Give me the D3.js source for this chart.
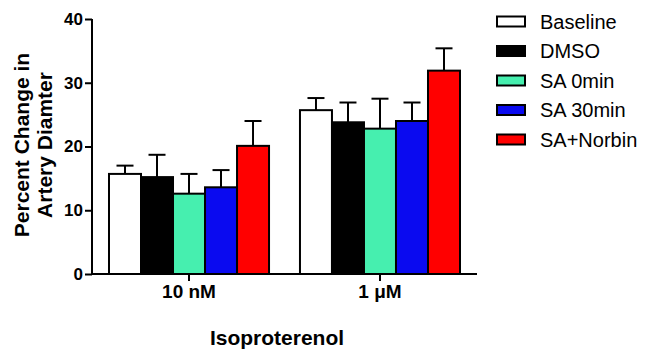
<!DOCTYPE html>
<html>
<head>
<meta charset="utf-8">
<script src="https://cdn.jsdelivr.net/npm/d3@7"></script>
<style>
  body { margin: 0; background: #fff; }
  svg { display: block; font-family: "Liberation Sans", Arial, sans-serif; }
</style>
</head>
<body>
<div id="chart"></div>
<script>
const doses = ["10 nM", "1 \u03BCM"];
const groups = ["Baseline", "DMSO", "SA 0min", "SA 30min", "SA+Norbin"];
const colors = ["#ffffff", "#000000", "#46efaf", "#0a0af0", "#ff0000"];
const means = [
  [15.7, 15.2, 12.6, 13.6, 20.1],
  [25.7, 23.8, 22.8, 24.0, 31.9]
];
const errs = [
  [1.3, 3.5, 3.1, 2.7, 3.9],
  [1.9, 3.1, 4.7, 2.9, 3.5]
];
const yTicks = [0, 10, 20, 30, 40];

const W = 652, H = 349;
const mLeft = 92, mRight = 477, mTop = 19, mBottom = 274;

const svg = d3.select("#chart")
  .append("svg")
  .attr("width", W)
  .attr("height", H);

const x0 = d3.scaleBand()
  .domain(doses)
  .range([mLeft, mRight])
  .paddingInner(0.162)
  .paddingOuter(0.089);

const x1 = d3.scaleBand()
  .domain(groups)
  .range([0, x0.bandwidth()]);

const y = d3.scaleLinear().domain([0, 40]).range([mBottom, mTop]);

// bars
const data = [];
doses.forEach((d, i) => {
  groups.forEach((g, j) => {
    data.push({ dose: d, group: g, color: colors[j], mean: means[i][j], err: errs[i][j] });
  });
});

const bar = svg.append("g")
  .selectAll("g")
  .data(data)
  .enter()
  .append("g")
  .attr("transform", (d) => "translate(" + (x0(d.dose) + x1(d.group)) + ",0)");

const bw = x1.bandwidth();
const cap = 17;

// error bars (upper only)
bar.append("line")
  .attr("x1", bw / 2).attr("x2", bw / 2)
  .attr("y1", (d) => y(d.mean))
  .attr("y2", (d) => y(d.mean + d.err))
  .attr("stroke", "#000").attr("stroke-width", 2);

bar.append("line")
  .attr("x1", bw / 2 - cap / 2).attr("x2", bw / 2 + cap / 2)
  .attr("y1", (d) => y(d.mean + d.err))
  .attr("y2", (d) => y(d.mean + d.err))
  .attr("stroke", "#000").attr("stroke-width", 2);

bar.append("rect")
  .attr("x", 0)
  .attr("y", (d) => y(d.mean))
  .attr("width", bw)
  .attr("height", (d) => mBottom - y(d.mean))
  .attr("fill", (d) => d.color)
  .attr("stroke", "#000")
  .attr("stroke-width", 2);

// axes
const yAxis = svg.append("g")
  .attr("transform", "translate(" + mLeft + ",0)")
  .call(d3.axisLeft(y).tickValues(yTicks).tickSize(7).tickPadding(2).tickSizeOuter(0));

const xAxis = svg.append("g")
  .attr("transform", "translate(0," + mBottom + ")")
  .call(d3.axisBottom(x0).tickSize(7).tickPadding(4).tickSizeOuter(0));

[yAxis, xAxis].forEach((a) => {
  a.select(".domain").attr("stroke-width", 2);
  a.selectAll(".tick line").attr("stroke-width", 2);
  a.selectAll("text")
    .attr("font-family", "Liberation Sans, Arial, sans-serif")
    .attr("font-weight", "bold")
    .attr("fill", "#000");
});
yAxis.selectAll("text").attr("font-size", 17);
xAxis.selectAll("text").attr("font-size", 19);
xAxis.select(".domain").attr("d", "M" + mLeft + ",0H" + mRight);
yAxis.select(".domain").attr("d", "M0," + mTop + "V" + mBottom);

// axis titles
const yTitle = svg.append("text")
  .attr("transform", "translate(29,145) rotate(-90)")
  .attr("text-anchor", "middle")
  .attr("font-weight", "bold")
  .attr("font-size", 21);
yTitle.append("tspan").attr("x", 0).attr("dy", 0).text("Percent Change in");
yTitle.append("tspan").attr("x", 0).attr("dy", 23).text("Artery Diamter");

svg.append("text")
  .attr("x", 277)
  .attr("y", 345)
  .attr("text-anchor", "middle")
  .attr("font-weight", "bold")
  .attr("font-size", 21)
  .text("Isoproterenol");

// legend
const legend = svg.append("g")
  .selectAll("g")
  .data(groups)
  .enter()
  .append("g")
  .attr("transform", (d, i) => "translate(497," + (21.5 + i * 29.5) + ")");

legend.append("rect")
  .attr("x", 0).attr("y", -5)
  .attr("width", 28).attr("height", 10)
  .attr("fill", (d, i) => colors[i])
  .attr("stroke", "#000")
  .attr("stroke-width", 2);

legend.append("text")
  .attr("x", 43)
  .attr("y", 7)
  .attr("font-size", 20)
  .text((d) => d);
</script>
</body>
</html>
